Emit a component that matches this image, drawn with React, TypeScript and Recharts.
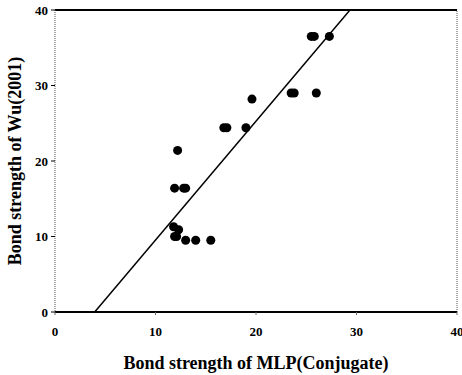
import { ScatterChart, Scatter, XAxis, YAxis, ReferenceLine, Label } from 'recharts';

const mlpConjugate = [25.5, 25.8, 27.3, 23.5, 23.8, 26.0, 19.6, 16.8, 17.1, 19.0, 12.2, 11.9, 12.8, 13.0, 11.8, 12.3, 11.9, 12.1, 13.0, 14.0, 15.5];
const wu2001 = [36.5, 36.5, 36.5, 29.0, 29.0, 29.0, 28.2, 24.4, 24.4, 24.4, 21.4, 16.4, 16.4, 16.4, 11.3, 10.9, 10.0, 10.0, 9.5, 9.5, 9.5];

const fitX = [3.95, 29.35];
const fitY = [0, 40];

const ticks = [0, 10, 20, 30, 40];

const points = mlpConjugate.map((x, i) => ({ x, y: wu2001[i] }));
const fitLine = fitX.map((x, i) => ({ x, y: fitY[i] }));

const font = '"Liberation Serif", "Times New Roman", serif';
const tickStyle = { fill: '#000', fontSize: 13, fontWeight: 700, fontFamily: font };

export default function App() {
  return (
    <div style={{ position: 'absolute', left: 0, top: 0, background: '#fff' }}>
      <ScatterChart width={462} height={375} margin={{ top: 10, right: 5, left: 10, bottom: 0 }}>
        <XAxis
          type="number"
          dataKey="x"
          domain={[0, 40]}
          ticks={ticks}
          interval={0}
          height={63}
          axisLine={{ stroke: '#000', strokeWidth: 2 }}
          tickLine={{ stroke: '#666' }}
          tickSize={3}
          tick={tickStyle}
          tickMargin={12}
          allowDataOverflow
        >
          <Label
            value="Bond strength of MLP(Conjugate)"
            position="insideBottom"
            offset={6}
            style={{ fill: '#000', fontSize: 18, fontWeight: 700, fontFamily: font }}
          />
        </XAxis>
        <YAxis
          type="number"
          dataKey="y"
          domain={[0, 40]}
          ticks={ticks}
          interval={0}
          width={45}
          axisLine={{ stroke: '#555', strokeDasharray: '1 1' }}
          tickLine={{ stroke: '#000' }}
          tickSize={4}
          tick={tickStyle}
          tickMargin={3}
          allowDataOverflow
        >
          <Label
            value="Bond strength of Wu(2001)"
            angle={-90}
            position="insideLeft"
            offset={5}
            style={{ textAnchor: 'middle', fill: '#000', fontSize: 18, fontWeight: 700, fontFamily: font }}
          />
        </YAxis>
        <ReferenceLine y={40} stroke="#000" strokeWidth={2} />
        <ReferenceLine x={40} stroke="#555" strokeDasharray="1 1" />
        <Scatter
          data={fitLine}
          line={{ stroke: '#000', strokeWidth: 1.5 }}
          shape={() => null}
          isAnimationActive={false}
        />
        <Scatter data={points} fill="#000" shape="circle" isAnimationActive={false} />
      </ScatterChart>
    </div>
  );
}
